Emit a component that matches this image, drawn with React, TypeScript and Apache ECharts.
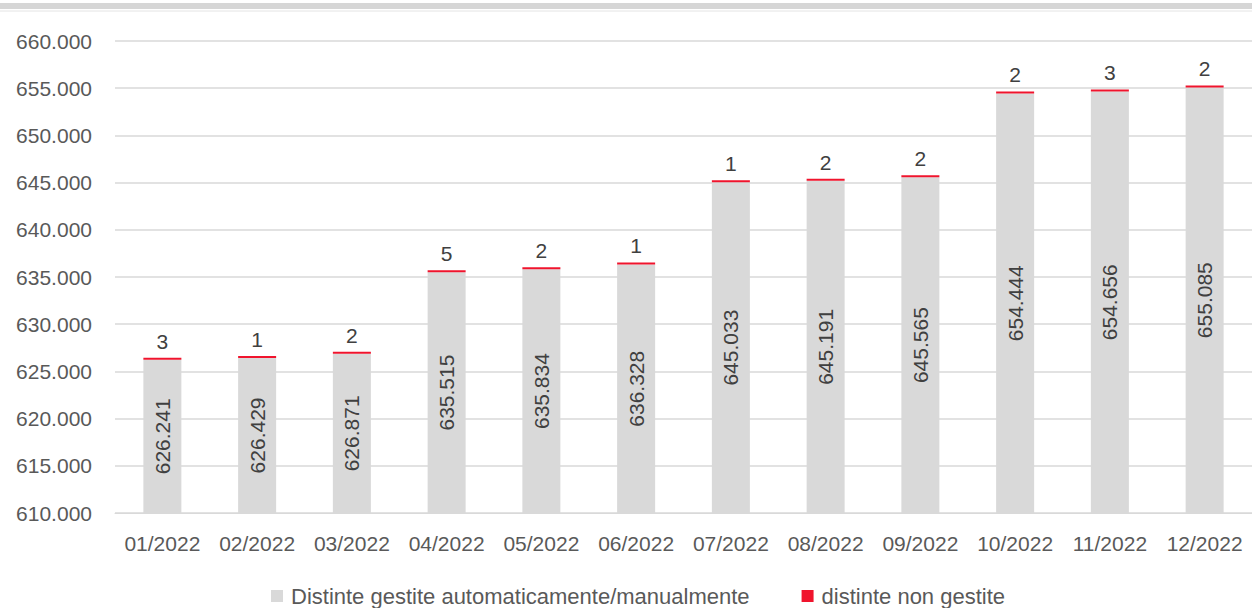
import React, { useEffect, useRef } from "react";
import * as echarts from "echarts";

const categories = ["01/2022", "02/2022", "03/2022", "04/2022", "05/2022", "06/2022", "07/2022", "08/2022", "09/2022", "10/2022", "11/2022", "12/2022"];
const gestite = [626241, 626429, 626871, 635515, 635834, 636328, 645033, 645191, 645565, 654444, 654656, 655085];
const nonGestite = [3, 1, 2, 5, 2, 1, 1, 2, 2, 2, 3, 2];
const seriesNames = ["Distinte gestite automaticamente/manualmente", "distinte non gestite"];

const fmt = (v: number) => String(Math.round(v)).replace(/\B(?=(\d{3})+(?!\d))/g, ".");
const FONT = "Liberation Sans";

export default function App() {
  const ref = useRef<HTMLDivElement>(null);
  useEffect(() => {
    if (!ref.current) return;
    const chart = echarts.init(ref.current, null, { renderer: "svg" });
    chart.setOption({
      animation: false,
      backgroundColor: "#ffffff",
      textStyle: { fontFamily: FONT },
      graphic: [
        { type: "rect", shape: { x: 0, y: 3, width: 1252, height: 6 }, style: { fill: "#d6d6d6" } },
        { type: "line", shape: { x1: 0, y1: 11, x2: 1252, y2: 11 }, style: { stroke: "#e4e4e4", lineWidth: 1 } },
      ],
      grid: { left: 115, right: 0, top: 41, bottom: 95, containLabel: false },
      legend: {
        left: 266,
        top: 580,
        itemWidth: 12,
        itemHeight: 12,
        itemGap: 52,
        icon: "rect",
        textStyle: { fontFamily: FONT, fontSize: 22, color: "#595959", padding: [0, 0, 0, 3] },
        data: seriesNames,
      },
      xAxis: {
        type: "category",
        data: categories,
        axisLine: { show: true, lineStyle: { color: "#d9d9d9", width: 1 } },
        axisTick: { show: false },
        axisLabel: { interval: 0, fontFamily: FONT, fontSize: 21, color: "#595959", margin: 20 },
      },
      yAxis: {
        type: "value",
        min: 610000,
        max: 660000,
        interval: 5000,
        axisLine: { show: false },
        axisTick: { show: false },
        splitLine: { lineStyle: { color: "#d9d9d9", width: 1.5 } },
        axisLabel: { fontFamily: FONT, fontSize: 21, color: "#595959", margin: 23, formatter: (v: number) => fmt(v) },
      },
      series: [
        {
          name: seriesNames[0],
          type: "bar",
          stack: "tot",
          barWidth: 38,
          data: gestite,
          itemStyle: { color: "#d9d9d9" },
          label: {
            show: true,
            position: "inside",
            rotate: 90,
            fontFamily: FONT,
            fontSize: 21,
            color: "#404040",
            formatter: (p: any) => fmt(p.value),
          },
        },
        {
          name: seriesNames[1],
          type: "bar",
          stack: "tot",
          barWidth: 38,
          barMinHeight: 2,
          data: nonGestite,
          itemStyle: { color: "#f0142d" },
          label: {
            show: true,
            position: "top",
            distance: 6,
            fontFamily: FONT,
            fontSize: 21,
            color: "#404040",
          },
        },
      ],
    });
    return () => chart.dispose();
  }, []);
  return <div ref={ref} style={{ position: "fixed", left: 0, top: 0, width: 1252, height: 608 }} />;
}
